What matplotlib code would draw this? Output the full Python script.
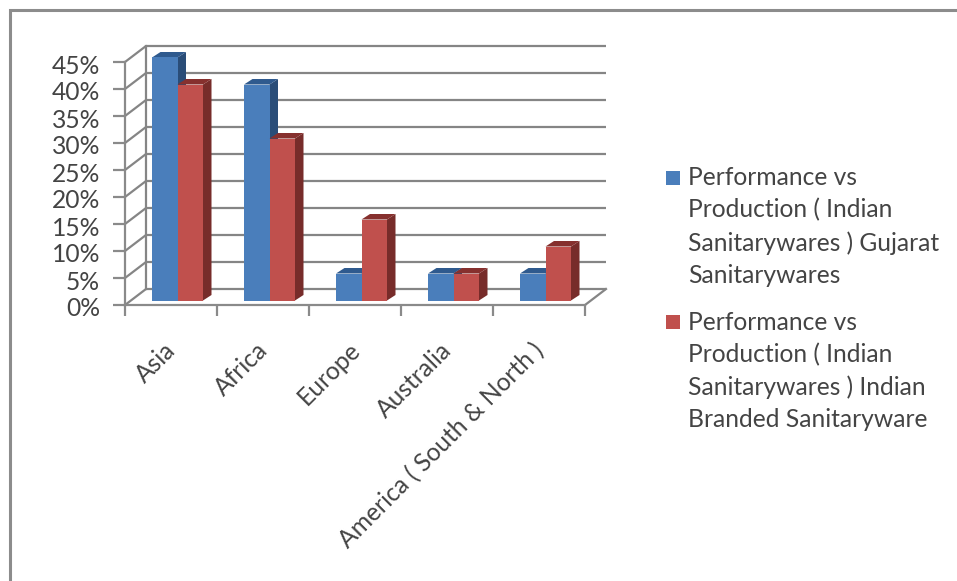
import matplotlib
matplotlib.use("Agg")
import matplotlib.pyplot as plt
from matplotlib.patches import Polygon, Patch, Rectangle
from matplotlib.legend_handler import HandlerPatch
from matplotlib.transforms import ScaledTranslation
import numpy as np

categories = ["Asia", "Africa", "Europe", "Australia", "America ( South & North )"]
gujarat = [45, 40, 5, 5, 5]
indian = [40, 30, 15, 5, 10]
series_names = ["Performance vs\nProduction ( Indian\nSanitarywares ) Gujarat\nSanitarywares",
                "Performance vs\nProduction ( Indian\nSanitarywares ) Indian\nBranded Sanitaryware"]
y_ticks = list(range(0, 50, 5))

W, H = 957, 581
plt.rcParams['font.family'] = ['Lato', 'DejaVu Sans']
fig = plt.figure(figsize=(W/100, H/100), dpi=100)
fig.patches.append(Rectangle((9.5/W, -0.02), 2000/W, 1.02-9.5/H, transform=fig.transFigure,
                             fc='white', ec='#8c8c8c', lw=2.2, zorder=-5))

L, R, T0, Y0 = 125, 585, 62, 305
ax = fig.add_axes([L/W, 1-Y0/H, (R-L)/W, (Y0-T0)/H])
ax.set_xlim(0, 5); ax.set_ylim(0, 45)
ax.patch.set_alpha(0)
for s in ['top', 'right']:
    ax.spines[s].set_visible(False)
for s in ['left', 'bottom']:
    ax.spines[s].set_color('#8a8a8a'); ax.spines[s].set_linewidth(1.6)

px_x = 5/(R-L); px_y = 45/(Y0-T0)
wall_dx, wall_dy = 21*px_x, 16*px_y          # depth of chart box
gridc = '#858585'
for t in y_ticks:
    ax.plot([0, wall_dx], [t, t+wall_dy], color=gridc, lw=1.6, clip_on=False, zorder=1, solid_capstyle='butt')
    ax.plot([wall_dx, 5+wall_dx], [t+wall_dy]*2, color=gridc, lw=1.6, clip_on=False, zorder=1, solid_capstyle='butt')
ax.plot([5, 5+wall_dx], [0, wall_dy], color=gridc, lw=1.6, clip_on=False, zorder=1)
ax.plot([wall_dx, wall_dx], [0+wall_dy, 45+wall_dy], color=gridc, lw=1.6, clip_on=False, zorder=1)

ax.set_yticks(y_ticks)
ax.set_yticklabels([f"{t}%" for t in y_ticks], fontsize=17.7, color='#444444')
ax.set_xticks(np.arange(0, 6))
ax.set_xticklabels([])
ax.tick_params(axis='y', length=9, width=1.6, color='#8a8a8a', pad=8.8)
ax.tick_params(axis='x', length=8, width=1.6, color='#8a8a8a')
for lab in ax.get_yticklabels():
    lab.set_transform(lab.get_transform() + ScaledTranslation(0, -2/100, fig.dpi_scale_trans))

cx = np.arange(5) + 0.5
for c, lab in zip(cx, categories):
    ax.annotate(lab, xy=(c, 0), xycoords='data', xytext=(-5, -24), textcoords='offset points',
                rotation=45, ha='right', va='top', rotation_mode='anchor',
                fontsize=17.7, color='#444444', annotation_clip=False)

bw = 25.5*px_x
shift_x, shift_y = 6.5*px_x, 4.5*px_y     # position of the bar front inside the depth
bdx, bdy = 8.5*px_x, 5.5*px_y            # bar depth
styles = [('#4a7ebb', '#2f5a8e', '#2a4d78'), ('#c0504d', '#86302e', '#772c2a')]

def draw(x0, val, st, z):
    front, top, side = st
    base = shift_y
    h = val
    ax.bar(x0, h, bw, bottom=base, align='edge', color=front, zorder=z+1, clip_on=False, lw=0)
    ax.add_patch(Polygon([(x0+bw, base), (x0+bw+bdx, base+bdy), (x0+bw+bdx, base+h+bdy), (x0+bw, base+h)],
                         fc=side, ec='none', zorder=z, clip_on=False))
    ax.add_patch(Polygon([(x0, base+h), (x0+bdx, base+h+bdy), (x0+bw+bdx, base+h+bdy), (x0+bw, base+h)],
                         fc=top, ec='none', zorder=z, clip_on=False))

for i, c in enumerate(cx):
    left = c + shift_x - bw
    draw(left, gujarat[i], styles[0], 3)
    draw(left+bw, indian[i], styles[1], 5)

class FirstLineSquare(HandlerPatch):
    def create_artists(self, legend, orig, xd, yd, w, h, fs, trans):
        p = Rectangle((-xd, -yd + 37.5), 10, 10, fc=orig.get_facecolor(), ec='none', transform=trans)
        return [p]

handles = [Patch(color=styles[0][0]), Patch(color=styles[1][0])]
fig.legend(handles, series_names, loc='upper left', bbox_to_anchor=(666/W, 1-166/H),
           frameon=False, fontsize=17.7, labelcolor='#444444', handlelength=0.65, handleheight=0.8,
           handletextpad=0.26, labelspacing=0.98, borderaxespad=0, borderpad=0,
           handler_map={Patch: FirstLineSquare()})
for t in fig.legends[0].get_texts():
    t.set_linespacing(1.48)

fig.savefig("out.png", dpi=100)
